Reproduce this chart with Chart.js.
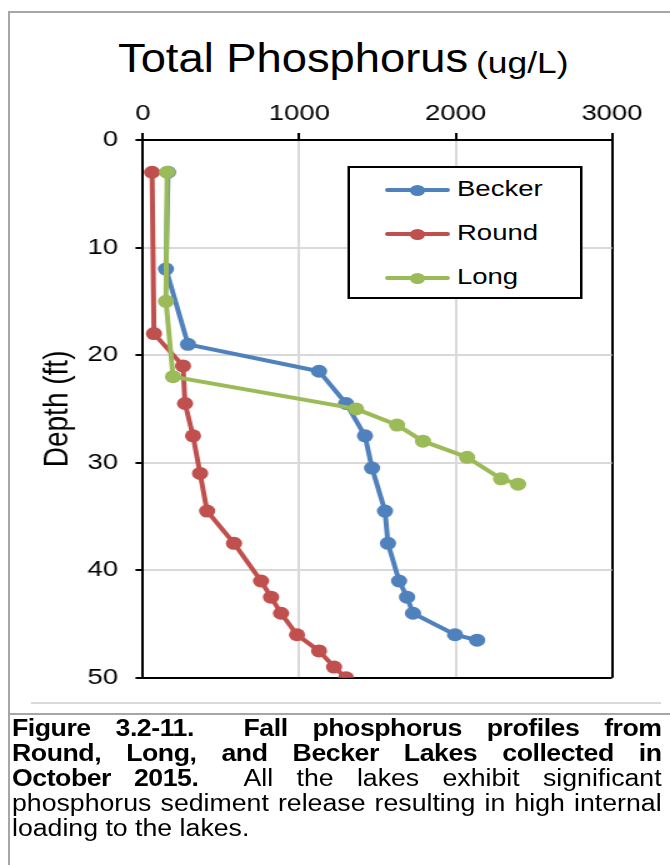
<!DOCTYPE html>
<html>
<head>
<meta charset="utf-8">
<script src="https://cdn.jsdelivr.net/npm/chart.js@4.4.1/dist/chart.umd.min.js"></script>
<style>
  body { margin: 0; background: #fff; font-family: "Liberation Sans", Arial, sans-serif; }
  #page { position: relative; width: 670px; height: 865px; overflow: hidden; }
  .hline { position: absolute; height: 2px; }
  .vline { position: absolute; width: 2px; }
  .ttl { position: absolute; white-space: nowrap; transform-origin: 0 0; color: #000; }
  #title1 { left: 118px; top: 35px; font-size: 41px; transform: scaleX(1.105); }
  #title2 { left: 476px; top: 47px; font-size: 29px; transform: scaleX(1.22); }
  #wrap { position: absolute; left: 0; top: 0; width: 536px; height: 705px; transform: scaleX(1.25); transform-origin: 0 0; }
  #tpChart { position: absolute; left: 0; top: 0; width: 536px; height: 705px; }
  #legend { position: absolute; left: 277.6px; top: 166px; width: 184px; height: 129px; border: 2px solid #000; background: #fff; }
  .item { position: absolute; left: 0; height: 30px; width: 180px; }
  .item .ln { position: absolute; left: 28px; width: 52px; height: 4px; top: 13px; border-radius: 2px; }
  .item .dot { position: absolute; left: 48px; width: 12px; height: 11px; top: 9.5px; border-radius: 50%; }
  .item .lab { position: absolute; left: 86px; top: 1px; font-size: 22px; color: #000; }
  #caption { position: absolute; left: 12px; top: 716px; width: 560px; transform: scaleX(1.16); transform-origin: 0 0; font-size: 23px; line-height: 25px; color: #000; }
  #caption .j { text-align: justify; text-align-last: justify; }
  #caption b { display: inline; letter-spacing: -0.4px; }
</style>
</head>
<body>
<div id="page">
  <div class="hline" style="left:8px; top:11px; width:662px; background:#a6a6a6;"></div>
  <div class="vline" style="left:8px; top:11px; height:854px; background:#a6a6a6;"></div>

  <div class="ttl" id="title1">Total Phosphorus</div>
  <div class="ttl" id="title2">(ug/L)</div>

  <div id="wrap">
    <canvas id="tpChart" width="536" height="705"></canvas>
    <div id="legend"></div>
  </div>

  <div class="hline" style="left:31px; top:702px; width:630px; background:#d9d9d9;"></div>
  <div class="hline" style="left:8px; top:713px; width:662px; background:#a6a6a6;"></div>

  <div id="caption">
    <div class="j"><b>Figure 3.2-11.&nbsp; Fall phosphorus profiles from</b></div>
    <div class="j"><b>Round, Long, and Becker Lakes collected in</b></div>
    <div class="j"><b>October 2015.</b>&nbsp; All the lakes exhibit significant</div>
    <div class="j">phosphorus sediment release resulting in high internal</div>
    <div>loading to the lakes.</div>
  </div>
</div>

<script>
// depth (ft) and total phosphorus (ug/L)
const beckerDepth = [3, 12, 19, 21.5, 24.5, 27.5, 30.5, 34.5, 37.5, 41, 42.5, 44, 46, 46.5];
const beckerTP = [160, 147, 288, 1126, 1299, 1420, 1465, 1548, 1567, 1638, 1689, 1727, 1996, 2137];

const roundDepth = [3, 18, 21, 24.5, 27.5, 31, 34.5, 37.5, 41, 42.5, 44, 46, 47.5, 49, 50];
const roundTP = [58, 70, 256, 269, 320, 365, 410, 582, 755, 819, 883, 985, 1126, 1222, 1299];

const longDepth = [3, 15, 22, 25, 26.5, 28, 29.5, 31.5, 32];
const longTP = [154, 147, 192, 1363, 1625, 1791, 2073, 2290, 2399];

const lakeNames = ['Becker', 'Round', 'Long'];
const lakeColors = ['#4F81BD', '#C0504D', '#9BBB59'];

const xTicks = [0, 1000, 2000, 3000];
const yTicks = [0, 10, 20, 30, 40, 50];

function toPoints(tp, depth) {
  return tp.map((v, i) => ({ x: v, y: depth[i] }));
}

const series = [
  toPoints(beckerTP, beckerDepth),
  toPoints(roundTP, roundDepth),
  toPoints(longTP, longDepth)
];

const datasets = series.map((pts, i) => ({
  label: lakeNames[i],
  data: pts,
  showLine: true,
  borderColor: lakeColors[i],
  backgroundColor: lakeColors[i],
  borderWidth: 4,
  pointRadius: 6.5,
  pointHoverRadius: 6.5,
  pointBorderWidth: 0,
  order: 2 - i // Long drawn on top, like the original
}));

// legend (html, built from the same names / colours)
const legend = document.getElementById('legend');
lakeNames.forEach((name, i) => {
  const item = document.createElement('div');
  item.className = 'item';
  item.style.top = (7 + i * 44) + 'px';
  item.innerHTML = '<div class="ln" style="background:' + lakeColors[i] + '"></div>' +
    '<div class="dot" style="background:' + lakeColors[i] + '"></div>' +
    '<div class="lab">' + name + '</div>';
  legend.appendChild(item);
});

const ctx = document.getElementById('tpChart').getContext('2d');
new Chart(ctx, {
  type: 'scatter',
  data: { datasets: datasets },
  options: {
    responsive: false,
    animation: false,
    devicePixelRatio: 1,
    layout: { autoPadding: false, padding: { top: 0, left: 0, right: 46.4, bottom: 13 } },
    plugins: {
      legend: { display: false },
      tooltip: { enabled: false }
    },
    scales: {
      x: {
        type: 'linear',
        position: 'top',
        min: 0,
        max: 3000,
        afterBuildTicks: (scale) => { scale.ticks = xTicks.map(v => ({ value: v })); },
        afterFit: (scale) => { scale.height = 140; },
        ticks: {
          color: '#000',
          padding: 6,
          callback: (v) => String(v),
          font: { family: 'Liberation Sans', size: 22 }
        },
        grid: {
          color: (c) => (c.tick && c.tick.value === 3000) ? '#000' : '#d9d9d9',
          lineWidth: 2,
          tickColor: '#000',
          tickLength: 7
        },
        border: { color: '#000', width: 2 }
      },
      y: {
        type: 'linear',
        position: 'left',
        reverse: true,
        min: 0,
        max: 50,
        afterBuildTicks: (scale) => { scale.ticks = yTicks.map(v => ({ value: v })); },
        afterFit: (scale) => { scale.width = 114.4; },
        ticks: {
          color: '#000',
          padding: 14,
          callback: (v) => String(v),
          font: { family: 'Liberation Sans', size: 22 }
        },
        grid: {
          color: (c) => (c.tick && c.tick.value === 50) ? '#000' : '#d9d9d9',
          lineWidth: 2,
          tickColor: '#000',
          tickLength: 6
        },
        border: { color: '#000', width: 2 },
        title: {
          display: true,
          text: 'Depth (ft)',
          color: '#000',
          font: { family: 'Liberation Sans', size: 28 },
          padding: { top: 29, bottom: 0 }
        }
      }
    }
  }
});
</script>
</body>
</html>
